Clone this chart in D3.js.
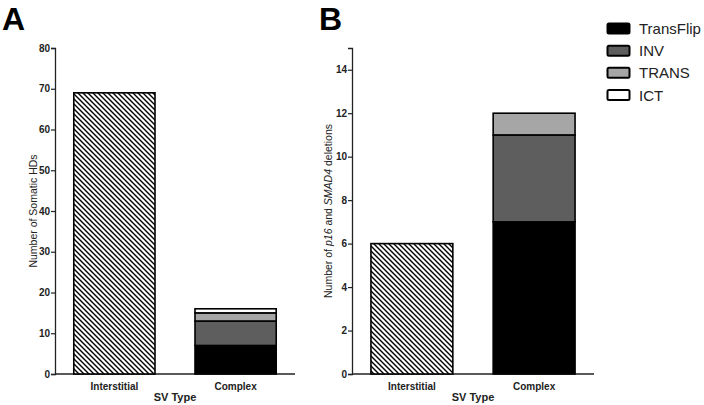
<!DOCTYPE html>
<html><head><meta charset="utf-8">
<script src="https://cdn.jsdelivr.net/npm/d3@7"></script>
<style>
body{margin:0;background:#fff;}
svg{display:block;font-family:"Liberation Sans",Arial,sans-serif;}
.tick text{font-weight:bold;fill:#222;}
</style></head><body>
<svg id="c" width="704" height="405"></svg>
<script>
const categories = ["Interstitial", "Complex"];
const seriesNames = ["TransFlip", "INV", "TRANS", "ICT"];
const seriesColors = ["#000000", "#5e5e5e", "#a6a6a6", "#ffffff"];
// Panel A: Number of somatic HDs
const interstitialA = [69];
const complexA = [7, 6, 2, 1];
const ticksA = [0, 10, 20, 30, 40, 50, 60, 70, 80];
// Panel B: Number of p16 and SMAD4 deletions
const interstitialB = [6];
const complexB = [7, 4, 1, 0];
const ticksB = [0, 2, 4, 6, 8, 10, 12, 14];

const svg = d3.select("#c");
const defs = svg.append("defs");
const pat = defs.append("pattern").attr("id","hatch").attr("patternUnits","userSpaceOnUse")
  .attr("width",5).attr("height",5);
pat.append("rect").attr("width",5).attr("height",5).attr("fill","#fff");
pat.append("path").attr("d","M0,0L5,5M-1,4L1,6M4,-1L6,1").attr("stroke","#000").attr("stroke-width",1.4);

function panel(opts){
  const g = svg.append("g");
  const x = d3.scaleBand().domain(categories).range([opts.x0, opts.x1]).paddingInner(0.33).paddingOuter(0.155);
  const y = d3.scaleLinear().domain([0, opts.max]).range([374, 48]);
  const ya = g.append("g").attr("transform",`translate(${opts.x0},0)`)
    .call(d3.axisLeft(y).tickValues(opts.ticks).tickSize(4).tickPadding(1));
  ya.select(".domain").attr("stroke","#222").attr("stroke-width",1.3);
  ya.selectAll(".tick line").attr("stroke","#222").attr("stroke-width",1.2);
  ya.selectAll(".tick text").attr("font-size",10);
  const xa = g.append("g").attr("transform",`translate(0,374)`)
    .call(d3.axisBottom(x).tickSize(4).tickSizeOuter(0).tickPadding(1));
  xa.select(".domain").attr("stroke","#222").attr("stroke-width",1.3)
    .attr("d",`M${opts.x0},0H${opts.x1}`);
  xa.selectAll(".tick line").attr("stroke","#222").attr("stroke-width",1.2).attr("y1",-3).attr("y2",0);
  xa.selectAll(".tick text").attr("font-size",10).attr("dy","1.05em");
  g.append("rect").attr("x",x("Interstitial")).attr("width",x.bandwidth())
    .attr("y",y(opts.inter[0])).attr("height",y(0)-y(opts.inter[0]))
    .attr("fill","url(#hatch)").attr("stroke","#000").attr("stroke-width",1.6);
  let acc = 0;
  opts.complex.forEach((v,i)=>{
    if(v<=0) return;
    g.append("rect").attr("x",x("Complex")).attr("width",x.bandwidth())
      .attr("y",y(acc+v)).attr("height",y(acc)-y(acc+v))
      .attr("fill",seriesColors[i]).attr("stroke","#000").attr("stroke-width",1.6);
    acc += v;
  });
  g.append("text").attr("x",(opts.x0+opts.x1)/2).attr("y",401).attr("text-anchor","middle")
    .attr("font-size",11).attr("font-weight","bold").attr("fill","#222").text("SV Type");
  const t = g.append("text").attr("transform",`translate(${opts.titleX},211) rotate(-90)`)
    .attr("text-anchor","middle").attr("font-size",10.5).attr("fill","#222");
  opts.title.forEach(p=>t.append("tspan").attr("font-style",p[1]?"italic":null).text(p[0]));
  g.append("text").attr("x",opts.letterX).attr("y",30).attr("font-size",32).attr("font-weight","bold").text(opts.letter);
}

panel({x0:55,x1:295,max:80,ticks:ticksA,inter:interstitialA,complex:complexA,titleX:37,
  title:[["Number of Somatic HDs",false]],letter:"A",letterX:2});
panel({x0:352,x1:594,max:15,ticks:ticksB,inter:interstitialB,complex:complexB,titleX:332,
  title:[["Number of ",false],["p16",true],[" and ",false],["SMAD4",true],[" deletions",false]],letter:"B",letterX:319});

const leg = svg.append("g");
const legY = d3.scalePoint().domain(seriesNames).range([28.5,95]);
seriesNames.forEach((s,i)=>{
  leg.append("rect").attr("x",607.5).attr("y",legY(s)-5).attr("width",22).attr("height",10).attr("rx",1.5)
    .attr("fill",seriesColors[i]).attr("stroke","#000").attr("stroke-width",2);
  leg.append("text").attr("x",639).attr("y",legY(s)+5.5).attr("font-size",15).attr("fill","#222").text(s);
});
</script></body></html>
